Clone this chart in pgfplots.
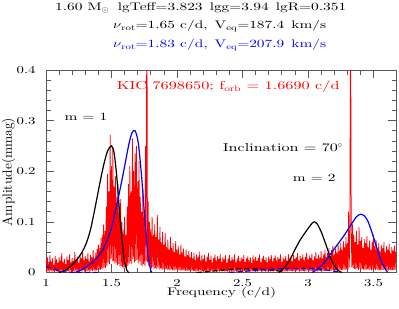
\documentclass[border=0pt]{standalone}
\usepackage{fontspec}
\setmainfont{lmroman10-regular.otf}[FakeStretch=1.4]
\newfontfamily\plainlm{lmroman10-regular.otf}
\usepackage{graphicx}
\usepackage{pgfplots}
\pgfplotsset{compat=1.18}
\newcommand{\nuw}{\scalebox{1.35}[1]{$\nu$}}
\begin{document}
\begin{tikzpicture}
\useasboundingbox (0,0) rectangle (399pt,308pt);
\begin{axis}[
  at={(46pt,35.5pt)}, anchor=south west,
  scale only axis, width=350pt, height=202.5pt,
  xmin=1, xmax=3.672, ymin=0, ymax=0.4,
  xtick={1,1.5,2,2.5,3,3.5}, minor x tick num=4,
  ytick={0,0.1,0.2,0.3,0.4}, minor y tick num=4,
  tick align=inside,
  major tick length=8pt, minor tick length=4.5pt,
  axis line style={black!65, line width=0.8pt},
  every tick/.style={black!65, line width=0.7pt},
  /pgf/number format/assume math mode=true,
  ticklabel style={font=\fontsize{10.5}{12}\selectfont},
  xticklabel style={yshift=-3pt},
  yticklabel style={xshift=-7pt},
  clip=true,
]
% observed amplitude spectrum
\addplot[red, line width=0.75pt, line join=bevel] coordinates {
(1.000,.024)(1.005,.002)(1.010,.031)(1.015,.003)(1.020,.018)(1.025,.001)(1.030,.035)(1.035,.004)(1.040,.022)(1.045,.002)
(1.050,.028)(1.055,.003)(1.060,.015)(1.065,.001)(1.070,.033)(1.075,.003)(1.080,.026)(1.085,.002)(1.090,.019)(1.095,.001)
(1.100,.030)(1.105,.003)(1.110,.024)(1.115,.002)(1.120,.038)(1.125,.004)(1.130,.021)(1.135,.001)(1.140,.027)(1.145,.003)
(1.150,.017)(1.155,.001)(1.160,.032)(1.165,.003)(1.170,.025)(1.175,.002)(1.180,.036)(1.185,.004)(1.190,.020)(1.195,.001)
(1.200,.029)(1.205,.003)(1.210,.023)(1.215,.002)(1.220,.040)(1.225,.004)(1.230,.026)(1.235,.002)(1.240,.031)(1.245,.003)
(1.250,.019)(1.255,.001)(1.260,.034)(1.265,.004)(1.270,.028)(1.275,.002)(1.280,.042)(1.285,.004)(1.290,.024)(1.295,.002)
(1.300,.033)(1.305,.003)(1.310,.027)(1.315,.003)(1.320,.038)(1.325,.004)(1.330,.022)(1.335,.002)(1.340,.035)(1.345,.004)
(1.350,.030)(1.355,.003)(1.360,.044)(1.365,.005)(1.370,.028)(1.375,.003)(1.380,.039)(1.385,.004)(1.390,.047)(1.395,.005)
(1.400,.055)(1.405,.006)(1.410,.048)(1.415,.005)(1.420,.068)(1.425,.007)(1.430,.075)(1.435,.008)(1.440,.095)(1.445,.010)
(1.450,.082)(1.455,.009)(1.460,.130)(1.465,.013)(1.470,.195)(1.475,.020)(1.480,.160)(1.485,.017)(1.490,.272)(1.495,.027)
(1.500,.210)(1.505,.022)(1.510,.245)(1.515,.023)(1.520,.170)(1.525,.018)(1.530,.190)(1.535,.020)(1.540,.150)(1.545,.015)
(1.550,.175)(1.555,.017)(1.560,.120)(1.565,.012)(1.570,.145)(1.575,.013)(1.580,.100)(1.585,.010)(1.590,.085)(1.595,.008)
(1.600,.110)(1.605,.011)(1.610,.075)(1.615,.007)(1.620,.130)(1.625,.013)(1.630,.175)(1.635,.018)(1.640,.210)(1.645,.022)
(1.650,.160)(1.655,.017)(1.660,.265)(1.665,.027)(1.670,.200)(1.675,.020)(1.680,.235)(1.685,.023)(1.690,.250)(1.695,.025)
(1.700,.180)(1.705,.018)(1.710,.220)(1.715,.022)(1.720,.150)(1.725,.015)(1.730,.120)(1.735,.012)(1.740,.165)(1.745,.017)
(1.750,.110)(1.755,.012)(1.760,.250)(1.765,.023)(1.770,.600)(1.775,.020)(1.780,.140)(1.785,.013)(1.790,.100)(1.795,.010)
(1.800,.085)(1.805,.008)(1.810,.110)(1.815,.011)(1.820,.075)(1.825,.007)(1.830,.095)(1.835,.009)(1.840,.070)(1.845,.007)
(1.850,.114)(1.855,.010)(1.860,.065)(1.865,.006)(1.870,.090)(1.875,.008)(1.880,.060)(1.885,.005)(1.890,.080)(1.895,.007)
(1.900,.055)(1.905,.005)(1.910,.078)(1.915,.007)(1.920,.050)(1.925,.005)(1.930,.065)(1.935,.006)(1.940,.045)(1.945,.004)
(1.950,.070)(1.955,.006)(1.960,.048)(1.965,.004)(1.970,.058)(1.975,.005)(1.980,.040)(1.985,.004)(1.990,.062)(1.995,.006)
(2.000,.045)(2.005,.004)(2.010,.052)(2.015,.005)(2.020,.036)(2.025,.003)(2.030,.055)(2.035,.005)(2.040,.040)(2.045,.004)
(2.050,.047)(2.055,.004)(2.060,.032)(2.065,.003)(2.070,.045)(2.075,.004)(2.080,.035)(2.085,.003)(2.090,.042)(2.095,.004)
(2.100,.030)(2.105,.003)(2.110,.040)(2.115,.004)(2.120,.028)(2.125,.003)(2.130,.038)(2.135,.003)(2.140,.025)(2.145,.002)
(2.150,.036)(2.155,.003)(2.160,.030)(2.165,.003)(2.170,.041)(2.175,.004)(2.180,.024)(2.185,.002)(2.190,.034)(2.195,.003)
(2.200,.027)(2.205,.002)(2.210,.035)(2.215,.003)(2.220,.022)(2.225,.002)(2.230,.031)(2.235,.003)(2.240,.038)(2.245,.003)
(2.250,.025)(2.255,.002)(2.260,.033)(2.265,.003)(2.270,.020)(2.275,.002)(2.280,.029)(2.285,.003)(2.290,.036)(2.295,.003)
(2.300,.024)(2.305,.002)(2.310,.032)(2.315,.003)(2.320,.027)(2.325,.002)(2.330,.037)(2.335,.003)(2.340,.021)(2.345,.002)
(2.350,.030)(2.355,.003)(2.360,.026)(2.365,.002)(2.370,.034)(2.375,.003)(2.380,.019)(2.385,.002)(2.390,.028)(2.395,.003)
(2.400,.035)(2.405,.003)(2.410,.023)(2.415,.002)(2.420,.031)(2.425,.003)(2.430,.026)(2.435,.002)(2.440,.036)(2.445,.003)
(2.450,.020)(2.455,.002)(2.460,.029)(2.465,.003)(2.470,.033)(2.475,.003)(2.480,.022)(2.485,.002)(2.490,.030)(2.495,.003)
(2.500,.027)(2.505,.002)(2.510,.035)(2.515,.003)(2.520,.021)(2.525,.002)(2.530,.028)(2.535,.003)(2.540,.032)(2.545,.003)
(2.550,.024)(2.555,.002)(2.560,.030)(2.565,.003)(2.570,.019)(2.575,.002)(2.580,.034)(2.585,.003)(2.590,.026)(2.595,.002)
(2.600,.031)(2.605,.003)(2.610,.023)(2.615,.002)(2.620,.029)(2.625,.003)(2.630,.036)(2.635,.003)(2.640,.021)(2.645,.002)
(2.650,.028)(2.655,.002)(2.660,.033)(2.665,.003)(2.670,.025)(2.675,.002)(2.680,.030)(2.685,.003)(2.690,.020)(2.695,.002)
(2.700,.032)(2.705,.003)(2.710,.027)(2.715,.002)(2.720,.035)(2.725,.003)(2.730,.022)(2.735,.002)(2.740,.029)(2.745,.003)
(2.750,.034)(2.755,.003)(2.760,.024)(2.765,.002)(2.770,.031)(2.775,.003)(2.780,.027)(2.785,.002)(2.790,.036)(2.795,.003)
(2.800,.021)(2.805,.002)(2.810,.030)(2.815,.003)(2.820,.026)(2.825,.002)(2.830,.033)(2.835,.003)(2.840,.023)(2.845,.002)
(2.850,.037)(2.855,.003)(2.860,.028)(2.865,.003)(2.870,.032)(2.875,.003)(2.880,.022)(2.885,.002)(2.890,.035)(2.895,.003)
(2.900,.027)(2.905,.002)(2.910,.030)(2.915,.003)(2.920,.038)(2.925,.004)(2.930,.024)(2.935,.002)(2.940,.033)(2.945,.003)
(2.950,.028)(2.955,.003)(2.960,.036)(2.965,.003)(2.970,.025)(2.975,.002)(2.980,.031)(2.985,.003)(2.990,.039)(2.995,.004)
(3.000,.026)(3.005,.002)(3.010,.034)(3.015,.003)(3.020,.029)(3.025,.003)(3.030,.037)(3.035,.003)(3.040,.024)(3.045,.002)
(3.050,.032)(3.055,.003)(3.060,.040)(3.065,.004)(3.070,.027)(3.075,.002)(3.080,.035)(3.085,.003)(3.090,.030)(3.095,.003)
(3.100,.042)(3.105,.004)(3.110,.028)(3.115,.003)(3.120,.036)(3.125,.003)(3.130,.045)(3.135,.004)(3.140,.031)(3.145,.003)
(3.150,.039)(3.155,.004)(3.160,.048)(3.165,.005)(3.170,.033)(3.175,.003)(3.180,.044)(3.185,.004)(3.190,.052)(3.195,.005)
(3.200,.036)(3.205,.003)(3.210,.047)(3.215,.004)(3.220,.040)(3.225,.004)(3.230,.055)(3.235,.005)(3.240,.043)(3.245,.004)
(3.250,.058)(3.255,.005)(3.260,.045)(3.265,.004)(3.270,.062)(3.275,.006)(3.280,.050)(3.285,.005)(3.290,.070)(3.295,.007)
(3.300,.058)(3.305,.005)(3.310,.120)(3.315,.010)(3.320,.085)(3.325,.600)(3.330,.090)(3.335,.010)(3.340,.095)(3.345,.009)
(3.350,.075)(3.355,.007)(3.360,.060)(3.365,.006)(3.370,.082)(3.375,.008)(3.380,.055)(3.385,.005)(3.390,.090)(3.395,.008)
(3.400,.062)(3.405,.006)(3.410,.070)(3.415,.007)(3.420,.048)(3.425,.005)(3.430,.066)(3.435,.006)(3.440,.058)(3.445,.005)
(3.450,.072)(3.455,.007)(3.460,.050)(3.465,.005)(3.470,.063)(3.475,.006)(3.480,.045)(3.485,.004)(3.490,.060)(3.495,.006)
(3.500,.075)(3.505,.007)(3.510,.052)(3.515,.005)(3.520,.064)(3.525,.006)(3.530,.046)(3.535,.004)(3.540,.058)(3.545,.005)
(3.550,.042)(3.555,.004)(3.560,.055)(3.565,.005)(3.570,.048)(3.575,.005)(3.580,.060)(3.585,.006)(3.590,.040)(3.595,.004)
(3.600,.052)(3.605,.005)(3.610,.045)(3.615,.004)(3.620,.056)(3.625,.005)(3.630,.038)(3.635,.004)(3.640,.050)(3.645,.005)
(3.650,.043)(3.655,.004)(3.660,.053)(3.665,.005)(3.670,.041)
};
% model m=1 (black, nu_rot=1.65)
\addplot[black, line width=1.2pt, smooth, tension=0.5] coordinates {
(1.10,0)(1.15,0.005)(1.20,0.015)(1.25,0.030)(1.30,0.053)(1.34,0.085)(1.38,0.135)(1.41,0.175)(1.44,0.212)(1.47,0.240)(1.50,0.250)(1.52,0.236)(1.54,0.190)(1.56,0.125)(1.58,0.064)(1.60,0.022)(1.62,0.003)(1.635,0)
};
% model m=1 (blue, nu_rot=1.83)
\addplot[blue, line width=1.2pt, smooth, tension=0.5] coordinates {
(1.22,0)(1.26,0.004)(1.30,0.010)(1.36,0.021)(1.40,0.032)(1.44,0.048)(1.49,0.080)(1.52,0.110)(1.55,0.145)(1.59,0.196)(1.63,0.250)(1.655,0.275)(1.68,0.280)(1.705,0.255)(1.73,0.189)(1.755,0.104)(1.78,0.033)(1.80,0.004)(1.81,0)
};
% model m=2 (black)
\addplot[black, line width=1.2pt, smooth, tension=0.5] coordinates {
(2.78,0)(2.82,0.010)(2.86,0.024)(2.90,0.045)(2.94,0.064)(2.99,0.083)(3.03,0.097)(3.05,0.100)(3.07,0.096)(3.10,0.081)(3.14,0.053)(3.17,0.030)(3.20,0.014)(3.23,0.004)(3.26,0)
};
% model m=2 (blue)
\addplot[blue, line width=1.2pt, smooth, tension=0.5] coordinates {
(3.03,0)(3.07,0.006)(3.12,0.018)(3.19,0.043)(3.27,0.071)(3.33,0.095)(3.37,0.110)(3.40,0.115)(3.43,0.112)(3.46,0.100)(3.50,0.070)(3.53,0.045)(3.56,0.022)(3.59,0.007)(3.61,0)
};
% weak dashed components
\addplot[black, line width=1.2pt, dash pattern=on 5pt off 3pt, smooth] coordinates {
(2.15,0)(2.25,0.002)(2.35,0.005)(2.45,0.007)(2.55,0.0075)(2.65,0.0065)(2.75,0.004)(2.80,0.002)
};
\addplot[blue, line width=1.2pt, dash pattern=on 5pt off 3pt, smooth] coordinates {
(1.00,0.012)(1.04,0.009)(1.08,0.005)(1.12,0.002)(1.16,0.0008)(1.20,0.0003)(1.30,0.0002)(1.40,0.0002)
};
\addplot[blue, line width=1.2pt, dash pattern=on 5pt off 3pt, smooth] coordinates {
(2.40,0)(2.50,0.002)(2.60,0.004)(2.70,0.006)(2.80,0.0075)(2.90,0.008)(3.00,0.008)(3.08,0.007)(3.16,0.004)(3.24,0.001)
};
\end{axis}
% titles above the axis
\node[anchor=base west, inner sep=0, font=\fontsize{11}{13}\selectfont] at (55pt,297.5pt)
  {1.60 M\textsubscript{$\odot$}\hspace{9pt}lgTeff=3.823\hspace{2pt} lgg=3.94\hspace{2pt} lgR=0.351};
\node[anchor=base west, inner sep=0, font=\fontsize{11}{13}\selectfont] at (113pt,279pt)
  {\nuw\textsubscript{rot}=1.65 c/d,\hspace{2pt} V\textsubscript{eq}=187.4\hspace{2pt} km/s};
\node[anchor=base west, inner sep=0, text=blue, font=\fontsize{11}{13}\selectfont] at (113pt,260pt)
  {\nuw\textsubscript{rot}=1.83 c/d,\hspace{2pt} V\textsubscript{eq}=207.9\hspace{2pt} km/s};
% labels inside the axis
\node[anchor=base west, inner sep=0, text=red, font=\fontsize{11.6}{14}\selectfont] at (116.7pt,218pt)
  {KIC 7698650; f\textsubscript{orb} = 1.6690 c/d};
\node[anchor=base west, inner sep=0, font=\fontsize{11}{13}\selectfont] at (64.3pt,187pt) {m = 1};
\node[anchor=base west, inner sep=0, font=\fontsize{11.5}{13}\selectfont] at (222.7pt,156.3pt) {Inclination = 70\textsuperscript{$\circ$}};
\node[anchor=base west, inner sep=0, font=\fontsize{11}{13}\selectfont] at (292.7pt,126.3pt) {m = 2};
% axis titles
\node[anchor=base, inner sep=0, font=\fontsize{11}{13}\selectfont] at (221.7pt,12.5pt) {Frequency (c/d)};
\node[anchor=center, inner sep=0, rotate=90] at (8.5pt,136pt)
  {\plainlm\fontsize{13.4}{15}\selectfont Amplitude(mmag)};
\end{tikzpicture}
\end{document}
